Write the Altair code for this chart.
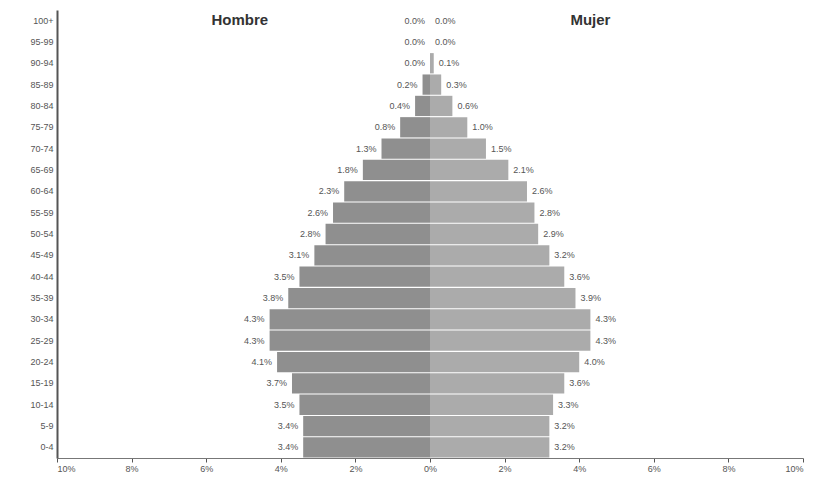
import altair as alt
import pandas as pd

ages = ["100+", "95-99", "90-94", "85-89", "80-84", "75-79", "70-74", "65-69",
        "60-64", "55-59", "50-54", "45-49", "40-44", "35-39", "30-34", "25-29",
        "20-24", "15-19", "10-14", "5-9", "0-4"]
hombre = [0.0, 0.0, 0.0, 0.2, 0.4, 0.8, 1.3, 1.8, 2.3, 2.6, 2.8, 3.1, 3.5, 3.8,
          4.3, 4.3, 4.1, 3.7, 3.5, 3.4, 3.4]
mujer = [0.0, 0.0, 0.1, 0.3, 0.6, 1.0, 1.5, 2.1, 2.6, 2.8, 2.9, 3.2, 3.6, 3.9,
         4.3, 4.3, 4.0, 3.6, 3.3, 3.2, 3.2]
x_ticks = [-10, -8, -6, -4, -2, 0, 2, 4, 6, 8, 10]

rows = []
for a, h, m in zip(ages, hombre, mujer):
    rows.append({"edad": a, "sexo": "Hombre", "v": -h, "lab": f"{h:.1f}%"})
    rows.append({"edad": a, "sexo": "Mujer", "v": m, "lab": f"{m:.1f}%"})
df = pd.DataFrame(rows)

FONT = "Liberation Sans"

x = alt.X("v:Q", scale=alt.Scale(domain=[-10, 10], nice=False),
          axis=alt.Axis(values=x_ticks, labelExpr="abs(datum.value) + '%'", title=None,
                        grid=False, domainColor="#777", tickColor="#555", tickSize=4,
                        labelFont=FONT, labelFontSize=9, labelColor="#555", labelPadding=2))
y = alt.Y("edad:N", sort=ages, scale=alt.Scale(paddingInner=0.05, paddingOuter=0.02),
          axis=alt.Axis(title=None, ticks=False, domainColor="#555", domainWidth=2,
                        labelFont=FONT, labelFontSize=9, labelColor="#555", labelPadding=4))

bars = alt.Chart(df).mark_bar().encode(
    x=x, y=y,
    color=alt.Color("sexo:N", scale=alt.Scale(domain=["Hombre", "Mujer"],
                                              range=["#8f8f8f", "#ababab"]), legend=None),
)

lab_h = alt.Chart(df[df.sexo == "Hombre"]).mark_text(
    align="right", baseline="middle", dx=-5, font=FONT, fontSize=9, color="#555"
).encode(x="v:Q", y=alt.Y("edad:N", sort=ages), text="lab:N")

lab_m = alt.Chart(df[df.sexo == "Mujer"]).mark_text(
    align="left", baseline="middle", dx=5, font=FONT, fontSize=9, color="#555"
).encode(x="v:Q", y=alt.Y("edad:N", sort=ages), text="lab:N")

titles = pd.DataFrame({"t": ["Hombre", "Mujer"], "x": [-5.1, 4.3]})
tit = alt.Chart(titles).mark_text(
    align="center", baseline="middle", font=FONT, fontSize=15, fontWeight="bold", color="#333"
).encode(x="x:Q", y=alt.value(10), text="t:N")

chart = alt.layer(bars, lab_h, lab_m, tit).properties(
    width=746, height=448,
    autosize=alt.AutoSizeParams(type="none"),
    padding={"left": 49, "top": 2, "right": 6, "bottom": 20},
    background="white",
).configure_view(stroke=None)

chart.save("out.html", embed_options={"renderer": "svg", "actions": False})
